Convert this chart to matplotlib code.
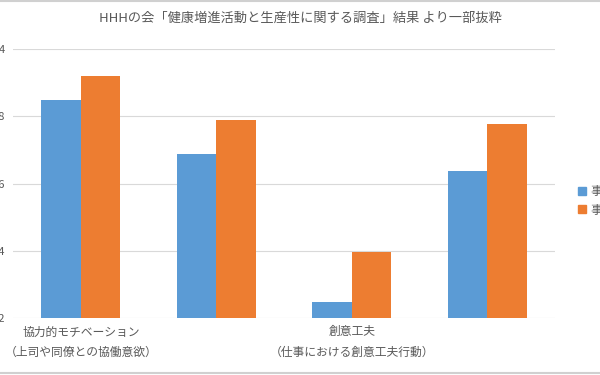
import matplotlib.pyplot as plt
from matplotlib.lines import Line2D
from matplotlib.patches import Patch
import numpy as np

plt.rcParams['font.family'] = ['Noto Sans CJK JP', 'DejaVu Sans']

title = "HHHの会「健康増進活動と生産性に関する調査」結果 より一部抜粋"
categories = ["協力的モチベーション\n（上司や同僚との協働意欲）", "",
              "創意工夫\n（仕事における創意工夫行動）", ""]
series_names = ["事前", "事後"]
before = [3.848, 3.688, 3.250, 3.639]
after = [3.920, 3.789, 3.398, 3.777]
yticks = [3.2, 3.4, 3.6, 3.8, 4.0]
ytick_labels = ["3.2", "3.4", "3.6", "3.8", "4"]

blue = "#5B9BD5"
orange = "#ED7D31"
grey = "#595959"

fig = plt.figure(figsize=(6, 3.75), dpi=100)
ax = fig.add_axes([0.0217, 0.1507, 0.9033, 0.7186])

x = np.arange(len(categories))
w = 0.29
ax.bar(x - w / 2, before, w, color=blue, zorder=3)
ax.bar(x + w / 2, after, w, color=orange, zorder=3)

ax.set_xlim(-0.5, 3.5)
ax.set_ylim(3.2, 4.0)
ax.set_yticks(yticks)
ax.set_yticklabels(ytick_labels, fontsize=8, color=grey)
ax.grid(axis='y', color="#d9d9d9", linewidth=0.8, zorder=0)
for s in ax.spines.values():
    s.set_visible(False)
ax.tick_params(axis='both', length=0)
# the original screenshot is cropped so only the last digit shows
ax.tick_params(axis='y', pad=6)
ax.set_xticks(x)
ax.set_xticklabels(categories, fontsize=8.5, color=grey, linespacing=1.7)
ax.tick_params(axis='x', pad=5)

fig.text(0.5, 1 - 18 / 375, title, ha='center', va='center', fontsize=9.5, color=grey)

# legend also cut off at the right edge in the original
handles = [Patch(color=blue), Patch(color=orange)]
fig.legend(handles, series_names, loc='center left',
           bbox_to_anchor=(0.953, 1 - 201 / 375), frameon=False,
           fontsize=9, handlelength=0.6, handleheight=0.6,
           handletextpad=0.4, labelspacing=0.45, borderpad=0,
           labelcolor=grey)

# frame edges of the original chart
fig.add_artist(Line2D([0, 1], [0.997, 0.997], color="#d0d0d0", linewidth=1.5))
fig.add_artist(Line2D([0, 1], [1 - 373 / 375, 1 - 373 / 375], color="#d0d0d0", linewidth=1.5))

fig.savefig("out.png", dpi=100)
